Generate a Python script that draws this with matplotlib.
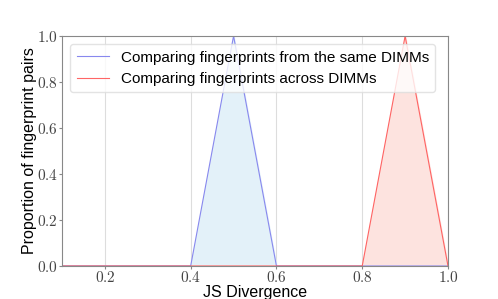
import numpy as np
import matplotlib.pyplot as plt
from matplotlib.ticker import FuncFormatter

plt.rcParams['mathtext.fontset'] = 'cm'
plt.rcParams['font.family'] = ['Liberation Sans', 'DejaVu Sans']

# JS divergence bins and proportions
js_bins = [0.1, 0.2, 0.3, 0.4, 0.5, 0.6, 0.7, 0.8, 0.9, 1.0]
same_dimm = [0, 0, 0, 0, 1.0, 0, 0, 0, 0, 0]
across_dimm = [0, 0, 0, 0, 0, 0, 0, 0, 1.0, 0]

fig = plt.figure(figsize=(4.98, 2.99), dpi=100)
ax = fig.add_axes([62 / 498, 1 - 266 / 299, 386 / 498, 230 / 299])

ax.fill_between(js_bins, same_dimm, color='#e3f1f9', zorder=1)
ax.plot(js_bins, same_dimm, color='#8888ee', lw=0.8,
        label='Comparing fingerprints from the same DIMMs', zorder=2)
ax.fill_between(js_bins, across_dimm, color='#fde3df', zorder=1)
ax.plot(js_bins, across_dimm, color='#ff5555', lw=0.8, alpha=0.9,
        label='Comparing fingerprints across DIMMs', zorder=2)

ax.set_xlim(0.1, 1.0)
ax.set_ylim(0, 1.0)
ax.set_xticks([0.2, 0.4, 0.6, 0.8, 1.0])
ax.set_yticks([0.0, 0.2, 0.4, 0.6, 0.8, 1.0])
fmt = FuncFormatter(lambda v, p: r'$%.1f$' % v)
ax.xaxis.set_major_formatter(fmt)
ax.yaxis.set_major_formatter(fmt)
ax.tick_params(labelsize=11, length=2.5, width=0.8, color='#888888',
               labelcolor='#444444', pad=0.5)
ax.grid(True, axis='x', color='#dddddd', lw=0.8, zorder=0)
ax.set_axisbelow(True)
for s in ax.spines.values():
    s.set_color('#888888')

ax.set_xlabel('JS Divergence', fontsize=11.5, labelpad=0)
ax.set_ylabel('Proportion of fingerprint pairs', fontsize=11.5, labelpad=0)
ax.legend(loc='upper left', fontsize=11, framealpha=0.8, edgecolor='#dddddd',
          handlelength=2.1, borderaxespad=0.55)

fig.savefig('out.png', dpi=100)
